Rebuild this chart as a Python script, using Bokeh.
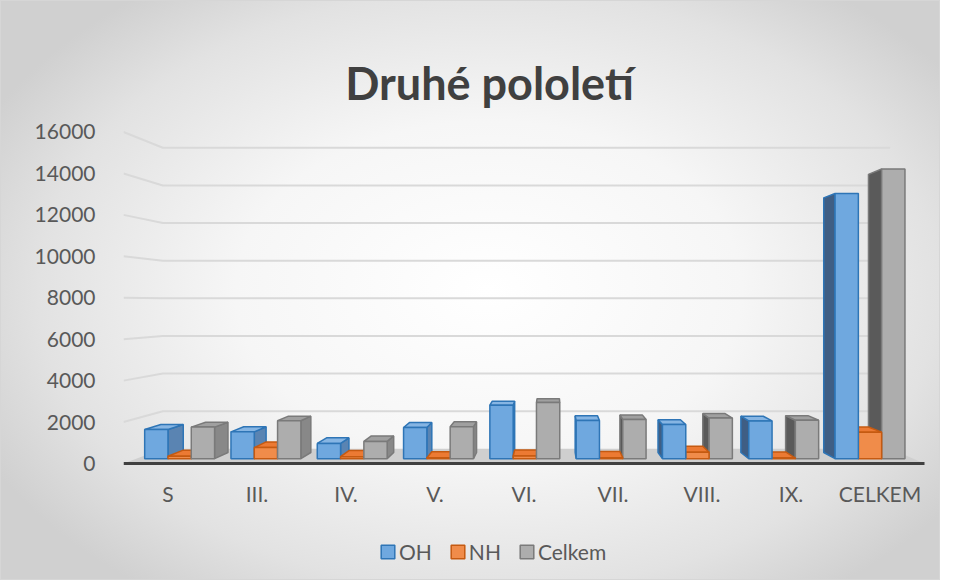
from bokeh.plotting import figure
from bokeh.models import Range1d, FixedTicker, Legend, LegendItem, ColumnDataSource
from bokeh.core.properties import value
from bokeh.embed import file_html
from bokeh.resources import INLINE

# ---- data ----
categories = ["S", "III.", "IV.", "V.", "VI.", "VII.", "VIII.", "IX.", "CELKEM"]
oh = [1450, 1335, 760, 1550, 2660, 1900, 1700, 1880, 13200]
nh = [120, 550, 100, 40, 130, 50, 320, 30, 1320]
celkem = [1570, 1885, 860, 1590, 2790, 1950, 2020, 1910, 14420]
series_names = ["OH", "NH", "Celkem"]
y_ticks = [0, 2000, 4000, 6000, 8000, 10000, 12000, 14000, 16000]
title_text = "Druhé pololetí"

series_values = [oh, nh, celkem]

# ---- geometry ----
W, H = 940, 580
LEFT = 122            # width of y-axis panel
PX = 89.0             # pixels per category
PY = 0.02072          # pixels per value unit
Y0 = 462              # canvas y of value 0 (front plane)
x_end = -0.5 + (W - LEFT) / PX
y_top = Y0 / PY
y_bot = (Y0 - H) / PY


def vy(canvas_y):
    return (Y0 - canvas_y) / PY


def ux(canvas_x):
    return (canvas_x - LEFT) / PX - 0.5


# ---- 3D projection settings (perspective toward a vanishing centre) ----
K = 0.092       # shrink of the back plane
CX = 4.303      # vanishing point (category units)
CY = 7700       # vanishing point (value units)
Z0, Z1 = 0.33, 0.75   # depth of bars (0 = front, 1 = back wall)
BW = 0.27       # bar width (category units)
XL, XR = -0.5, 8.5


def proj(x, y, z):
    s = 1 - K * z
    return CX + (x - CX) * s, CY + (y - CY) * s


def face(pts):
    pp = [proj(*q) for q in pts]
    return [a for a, _ in pp], [b for _, b in pp]


colors = {
    "OH": dict(front="#6fa8df", top="#86b5e3", side_r="#5a84b2", side_l="#3f5e84", line="#2e75b6"),
    "NH": dict(front="#f08c4a", top="#ec7a33", side_r="#c9692c", side_l="#9c4d1c", line="#c55a11"),
    "Celkem": dict(front="#adadad", top="#a0a0a0", side_r="#888888", side_l="#5a5a5a", line="#7a7a7a"),
}

FONT = "Lato"
TXT = "#595959"

p = figure(width=W, height=H, output_backend="svg", toolbar_location=None,
           x_range=Range1d(-0.5, x_end), y_range=Range1d(y_bot, y_top),
           min_border_left=LEFT, min_border_right=0,
           min_border_top=0, min_border_bottom=0)
p.border_fill_color = None
p.background_fill_color = None
p.outline_line_color = None
p.xgrid.visible = False
p.ygrid.visible = False
p.xaxis.visible = False
p.styles = {
    "background-image": "radial-gradient(ellipse 60% 65% at 52% 50%, #ffffff 0%, #f6f6f6 45%, #e2e2e2 80%, #d0d0d0 100%)",
    "border": "1px solid #d6d6d6",
}

# ---- floor ----
fx, fy = face([(XL, 0, 0), (XR, 0, 0), (XR, 0, 1), (XL, 0, 1)])
p.patch(fx, fy, fill_color="#cfcfcf", line_color=None)

# ---- gridlines (side wall + back wall) ----
gxs, gys = [], []
for t in y_ticks[1:]:
    a = proj(XL, t, 0)
    b = proj(XL, t, 1)
    c = proj(XR, t, 1)
    gxs.append([a[0], b[0], c[0]])
    gys.append([a[1], b[1], c[1]])
p.multi_line(gxs, gys, line_color="#d9d9d9", line_width=2)

# ---- bars ----
bars = []
for i, cat in enumerate(categories):
    for j, name in enumerate(series_names):
        v = series_values[j][i]
        x0 = i - 1.5 * BW + j * BW
        x1 = x0 + BW
        bars.append((abs((x0 + x1) / 2 - CX), x0, x1, v, name))
bars.sort(key=lambda b: -b[0])

xs, ys, fc, lc = [], [], [], []
front_index = {}
for _, x0, x1, v, name in bars:
    c = colors[name]
    if x1 < CX:
        fxs, fys = face([(x1, 0, Z0), (x1, 0, Z1), (x1, v, Z1), (x1, v, Z0)])
        xs.append(fxs); ys.append(fys); fc.append(c["side_r"]); lc.append(c["line"])
    elif x0 > CX:
        fxs, fys = face([(x0, 0, Z0), (x0, 0, Z1), (x0, v, Z1), (x0, v, Z0)])
        xs.append(fxs); ys.append(fys); fc.append(c["side_l"]); lc.append(c["line"])
    if v < CY:
        fxs, fys = face([(x0, v, Z0), (x1, v, Z0), (x1, v, Z1), (x0, v, Z1)])
        xs.append(fxs); ys.append(fys); fc.append(c["top"]); lc.append(c["line"])
    fxs, fys = face([(x0, 0, Z0), (x1, 0, Z0), (x1, v, Z0), (x0, v, Z0)])
    front_index.setdefault(name, len(xs))
    xs.append(fxs); ys.append(fys); fc.append(c["front"]); lc.append(c["line"])

src = ColumnDataSource(dict(xs=xs, ys=ys, fc=fc, lc=lc))
bars_r = p.patches("xs", "ys", fill_color="fc", line_color="lc", line_width=1.5, source=src)

# floor front edge
ex, ey = face([(XL, 0, 0), (XR, 0, 0)])
p.line(ex, ey, line_color="#404040", line_width=3)

# ---- y axis ----
p.yaxis.ticker = FixedTicker(ticks=y_ticks)
p.yaxis.axis_line_color = None
p.yaxis.major_tick_line_color = None
p.yaxis.minor_tick_line_color = None
p.yaxis.major_label_standoff = 22
p.yaxis.major_label_text_font = FONT
p.yaxis.major_label_text_font_size = "21px"
p.yaxis.major_label_text_color = TXT

# ---- category labels ----
cat_src = ColumnDataSource(dict(x=list(range(len(categories))),
                                y=[vy(492)] * len(categories), t=categories))
p.text(x="x", y="y", text="t", source=cat_src, text_align="center", text_baseline="middle",
       text_font=value(FONT), text_font_size="21px", text_color=TXT)

# ---- title ----
p.text(x=[ux(488)], y=[vy(81)], text=[title_text], text_align="center", text_baseline="alphabetic",
       text_font=value(FONT), text_font_style="bold", text_font_size="45px", text_color="#404040")

# ---- legend ----
items = [LegendItem(label=name, renderers=[bars_r], index=front_index[name]) for name in series_names]
legend = Legend(items=items, location=(256, 17), orientation="horizontal",
                glyph_width=17, glyph_height=17, label_standoff=3, spacing=17,
                padding=0, margin=0, border_line_color=None, background_fill_alpha=0,
                label_text_font=FONT, label_text_font_size="21px", label_text_color=TXT,
                label_height=22)
p.add_layout(legend)

open("out.html", "w").write(file_html(p, INLINE))
